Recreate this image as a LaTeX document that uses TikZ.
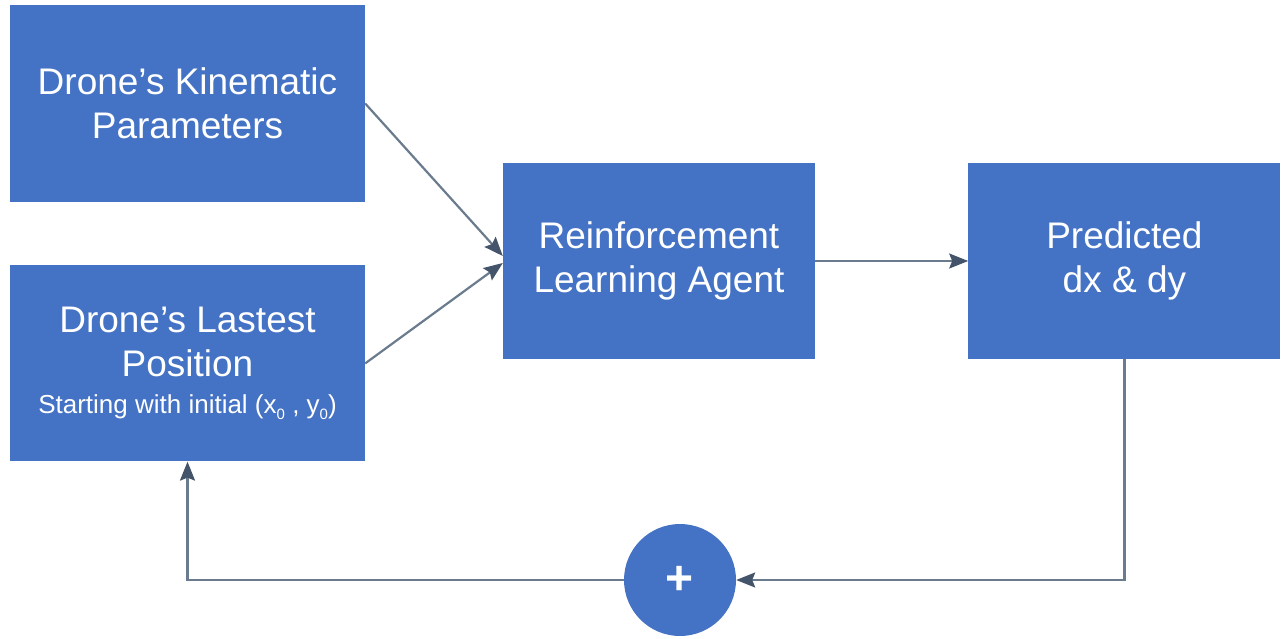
\documentclass[tikz,border=0pt]{standalone}
\usepackage{fontspec}
\setmainfont{Liberation Sans}
\usepackage{xcolor}
\usepackage{tikz}
\usetikzlibrary{arrows.meta,positioning,calc}
\definecolor{BoxBlue}{HTML}{4472C4}
\definecolor{LinkGray}{HTML}{6B7B8E}
\definecolor{TipDark}{HTML}{44546A}
\tikzset{
  block/.style={draw=none,fill=BoxBlue,text=white,align=center,
    minimum width=312pt,minimum height=196pt,inner sep=0pt,
    font=\fontsize{37}{44}\selectfont},
  sumnode/.style={circle,fill=BoxBlue,text=white,minimum size=112pt,inner sep=0pt,
    font=\fontsize{48}{48}\selectfont\bfseries},
  link/.style={-{Stealth[length=19pt,width=15pt,inset=3pt,color=TipDark]},
    line width=2.2pt,draw=LinkGray}
}
\begin{document}
\begin{tikzpicture}[x=1pt,y=1pt,node distance=63pt and 153pt]
  \useasboundingbox (0,0) rectangle (1281,-639);
  \node[block,minimum width=355pt,minimum height=197pt] (kin) at (187.5,-103.5) {Drone’s Kinematic\\Parameters};
  \node[block,minimum width=355pt,below=of kin] (pos) {Drone’s Lastest\\Position\\[-7pt]{\fontsize{26}{30}\selectfont Starting with initial (x\raisebox{-6pt}{\fontsize{15}{15}\selectfont 0} , y\raisebox{-6pt}{\fontsize{15}{15}\selectfont 0})}};
  \node[block] (agent) at (659,-261) {Reinforcement\\Learning Agent};
  \node[block,right=of agent] (pred) {Predicted\\dx \& dy};
  \node[sumnode] (sum) at (680,-580) {+};
  \draw[link] (kin.east) -- ($(agent.west)+(0,5)$);
  \draw[link] (pos.east) -- ($(agent.west)+(0,-2)$);
  \draw[link] (agent) -- (pred);
  \draw[link] (pred.south) |- (sum.east);
  \draw[link] (sum.west) -| (pos.south);
\end{tikzpicture}
\end{document}
